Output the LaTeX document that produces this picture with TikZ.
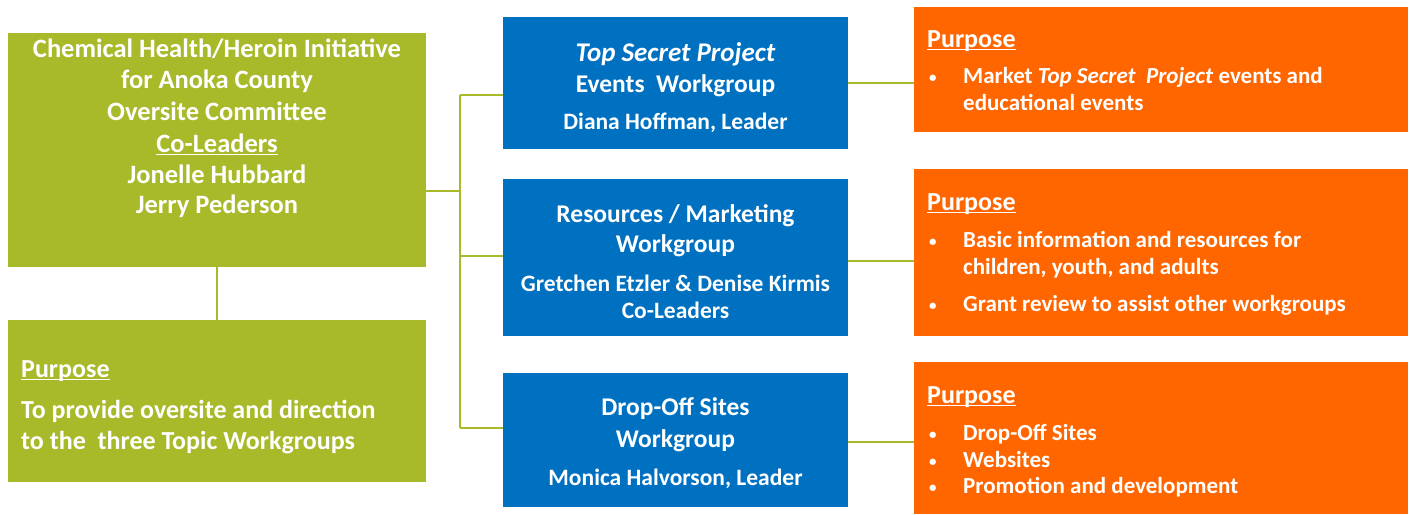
\documentclass[tikz,border=0pt]{standalone}
\usepackage{fontspec}
\setmainfont{Carlito}
\definecolor{grn}{RGB}{168,185,41}
\definecolor{blu}{RGB}{0,112,192}
\definecolor{org}{RGB}{255,102,0}
\newcommand\myul[1]{\setbox0\hbox{#1}\rlap{\rule[-3pt]{\wd0}{1.3pt}}\box0}
\begin{document}
\begin{tikzpicture}[x=1pt,y=-1pt,
  box/.style={anchor=north west, inner sep=0pt, outer sep=0pt, draw=none},
  gbox/.style={box, fill=grn},
  bbox/.style={box, fill=blu},
  obox/.style={box, fill=org},
  lt/.style={inner sep=0pt, anchor=base, text=white, font=\bfseries\fontsize{#1}{#1}\selectfont},
  lw/.style={lt=#1, anchor=base west},
  bul/.style={lw=15},
  conn/.style={draw=grn, line width=2pt}]
\useasboundingbox (0,0) rectangle (1413,514);
% boxes
\node[gbox, minimum width=418pt, minimum height=234pt] (g1) at (8,33) {};
\node[gbox, minimum width=418pt, minimum height=162pt] (g2) at (8,320) {};
\node[bbox, minimum width=345pt, minimum height=132pt] (bA) at (503,17) {};
\node[bbox, minimum width=345pt, minimum height=157pt] (bB) at (503,179) {};
\node[bbox, minimum width=345pt, minimum height=134pt] (bC) at (503,373) {};
\node[obox, minimum width=494pt, minimum height=125pt] (oA) at (914,7) {};
\node[obox, minimum width=494pt, minimum height=167pt] (oB) at (914,169) {};
\node[obox, minimum width=494pt, minimum height=152pt] (oC) at (914,362) {};
% connectors
\coordinate (tA) at (460,95);
\coordinate (tM) at (460,191);
\coordinate (tB) at (460,256);
\coordinate (tC) at (460,428);
\draw[conn] (g1.south) -- (g2.north);
\draw[conn] (g1.east |- tM) -- (tM);
\draw[conn] (tA) -- (tC);
\draw[conn] (tA) -- (tA -| bA.west);
\draw[conn] (tB) -- (tB -| bB.west);
\draw[conn] (tC) -- (tC -| bC.west);
\draw[conn] (bA.east) -- (bA.east -| oA.west);
\draw[conn] ([yshift=-3pt]bB.east) -- ([yshift=-3pt]bB.east -| oB.west);
\draw[conn] ([yshift=-2pt]bC.east) -- ([yshift=-2pt]bC.east -| oC.west);
% green 1 text
\node[lt=26.5] (g1a) at (217,57) {Chemical Health/Heroin Initiative};
\node[lt=26.5] (g1b) at (217,88) {for Anoka County};
\node[lt=26.5] (g1c) at (217,120) {Oversite Committee};
\node[lt=26.5] (g1d) at (217,152) {\myul{Co-Leaders}};
\node[lt=26.5] (g1e) at (217,183) {Jonelle Hubbard};
\node[lt=26.5] (g1f) at (217,213) {Jerry Pederson};
% green 2 text
\node[lw=26] (g2a) at (21,377) {\myul{Purpose}};
\node[lw=26] (g2b) at (21,418) {To provide oversite and direction};
\node[lw=26] (g2c) at (21,449) {to the \ three Topic Workgroups};
% blue A
\node[lt=27] (bA1) at (675.5,61) {\itshape Top Secret Project};
\node[lt=25.5] (bA2) at (675.5,92) {Events \ Workgroup};
\node[lt=23.5] (bA3) at (675.5,129) {Diana Hoffman, Leader};
% blue B
\node[lt=25.5] (bB1) at (675.5,222) {Resources / Marketing};
\node[lt=25.5] (bB2) at (675.5,252) {Workgroup};
\node[lt=23.5] (bB3) at (675.5,291) {Gretchen Etzler \& Denise Kirmis};
\node[lt=23.5] (bB4) at (675.5,318) {Co-Leaders};
% blue C
\node[lt=25.5] (bC1) at (675.5,415) {Drop-Off Sites};
\node[lt=25.5] (bC2) at (675.5,447) {Workgroup};
\node[lt=23.5] (bC3) at (675.5,485) {Monica Halvorson, Leader};
% orange A
\node[lw=26] (oAp) at (927,47) {\myul{Purpose}};
\node[bul] (oA1b) at (929,82) {•};
\node[lw=23] (oA1) at (963,83) {Market \textit{Top Secret \ Project} events and};
\node[lw=23] (oA2) at (963,110) {educational events};
% orange B
\node[lw=26] (oBp) at (927,210) {\myul{Purpose}};
\node[bul] (oB1b) at (929,246) {•};
\node[lw=23] (oB1) at (963,247) {Basic information and resources for};
\node[lw=23] (oB2) at (963,274) {children, youth, and adults};
\node[bul] (oB3b) at (929,310) {•};
\node[lw=23] (oB3) at (963,311) {Grant review to assist other workgroups};
% orange C
\node[lw=26] (oCp) at (927,403) {\myul{Purpose}};
\node[bul] (oC1b) at (929,439) {•};
\node[lw=23] (oC1) at (963,440) {Drop-Off Sites};
\node[bul] (oC2b) at (929,466) {•};
\node[lw=23] (oC2) at (963,467) {Websites};
\node[bul] (oC3b) at (929,492) {•};
\node[lw=23] (oC3) at (963,493) {Promotion and development};
\end{tikzpicture}
\end{document}
